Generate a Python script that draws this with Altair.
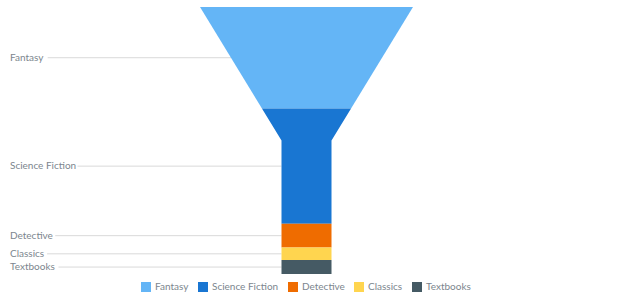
import altair as alt
import pandas as pd

# Book genres, their sales shares and palette
categories = ["Fantasy", "Science Fiction", "Detective", "Classics", "Textbooks"]
values = [380, 432, 89, 47, 52]
colors = ["#64b5f6", "#1976d2", "#ef6c00", "#ffd54f", "#455a64"]

# Funnel geometry (layout units equal to pixels)
CENTER = 306.5
TOP_HALF = 106.5
NECK_HALF = 25.0
NECK_START = 0.5  # fraction of the funnel height where the neck begins
LABEL_X = 10
LABEL_GAP = 4
FONT = "Lato"
FONT_SIZE = 10
TEXT_COLOR = "#7c868e"

# Approximate Lato advance widths (em) for label measuring
LATO_EM = {
    "F": 0.543, "a": 0.496, "n": 0.561, "t": 0.350, "s": 0.413, "y": 0.507,
    "S": 0.500, "c": 0.452, "i": 0.240, "e": 0.508, " ": 0.193, "o": 0.550,
    "D": 0.700, "v": 0.507, "C": 0.640, "l": 0.240, "T": 0.540, "x": 0.488,
    "b": 0.550, "k": 0.500,
}


def text_width(s):
    return sum(LATO_EM.get(ch, 0.5) for ch in s) * FONT_SIZE


total = float(sum(values))


def half_width(v):
    f = v / total
    if f < NECK_START:
        return TOP_HALF - (TOP_HALF - NECK_HALF) * f / NECK_START
    return NECK_HALF


poly_rows = []
label_rows = []
start = 0.0
for cat, val in zip(categories, values):
    end = start + val
    pts = [start]
    neck = NECK_START * total
    if start < neck < end:
        pts.append(neck)
    pts.append(end)
    for p in pts:
        hw = half_width(p)
        poly_rows.append({"category": cat, "pos": p, "left": CENTER - hw, "right": CENTER + hw})
    mid = (start + end) / 2
    label_rows.append({
        "category": cat,
        "mid": mid,
        "edge": CENTER - half_width(mid),
        "line_start": LABEL_X + text_width(cat) + LABEL_GAP,
    })
    start = end

poly_df = pd.DataFrame(poly_rows)
label_df = pd.DataFrame(label_rows)

yscale = alt.Scale(domain=[0, total], range=[7, 274])
xscale = alt.Scale(domain=[0, 620], range=[0, 620])

funnel = alt.Chart(poly_df).mark_area(orient="horizontal", interpolate="linear", opacity=1).encode(
    y=alt.Y("pos:Q", scale=yscale, axis=None),
    x=alt.X("left:Q", scale=xscale, axis=None, stack=None),
    x2="right:Q",
    color=alt.Color(
        "category:N",
        scale=alt.Scale(domain=categories, range=colors),
        legend=alt.Legend(
            orient="none",
            legendX=141,
            legendY=282,
            direction="horizontal",
            title=None,
            symbolType="square",
            symbolSize=100,
            symbolStrokeWidth=0,
            symbolOpacity=1,
            labelFont=FONT,
            labelFontSize=FONT_SIZE,
            labelColor=TEXT_COLOR,
            labelOffset=4,
            columnPadding=9,
        ),
    ),
)

connectors = alt.Chart(label_df).mark_rule(color="#d9d9d9", strokeWidth=1).encode(
    y=alt.Y("mid:Q", scale=yscale, axis=None),
    x=alt.X("line_start:Q", scale=xscale, axis=None),
    x2="edge:Q",
)

labels = alt.Chart(label_df).mark_text(
    align="left", baseline="middle", font=FONT, fontSize=FONT_SIZE, color=TEXT_COLOR
).encode(
    y=alt.Y("mid:Q", scale=yscale, axis=None),
    x=alt.value(LABEL_X),
    text="category:N",
)

chart = (
    alt.layer(connectors, funnel, labels)
    .properties(width=620, height=300, autosize=alt.AutoSizeParams(type="none"), padding=0, background="white")
    .configure_view(stroke=None)
)

chart.save("out.html", embed_options={"renderer": "svg", "actions": False})
